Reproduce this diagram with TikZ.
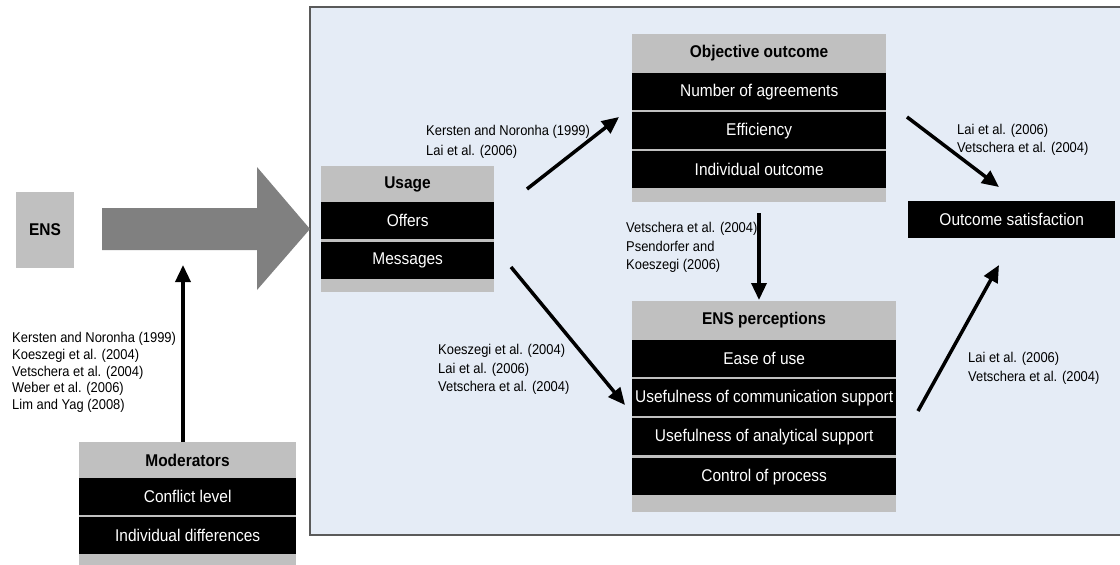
\documentclass[tikz,border=0pt]{standalone}
\usepackage{fontspec}
\setmainfont{Liberation Sans}[FakeStretch=0.91]
\usetikzlibrary{arrows.meta}
\definecolor{panelfill}{HTML}{E5ECF6}
\definecolor{headgray}{HTML}{C0C0C0}
\definecolor{bigarrow}{HTML}{808080}
\definecolor{panelline}{HTML}{5A5A5A}
\begin{document}
\begin{tikzpicture}[x=1pt,y=-1pt,
  groupbox/.style={fill=headgray, draw=none, inner sep=0pt, anchor=north west},
  rowbox/.style={fill=black, text=white, draw=none, inner sep=0pt, anchor=north west,
    minimum height=37pt, font=\fontsize{17}{20}\selectfont},
  headtext/.style={font=\bfseries\fontsize{17}{20}\selectfont, inner sep=0pt},
  cite/.style={anchor=west, align=left, inner sep=0pt, font=\fontsize{14.2}{18.5}\selectfont},
  link/.style={line width=3.5pt, -{Triangle[length=17pt,width=15pt]}},
]
\useasboundingbox (0,0) rectangle (1120,565);

% framed panel on the right
\fill[panelfill] (310,7) rectangle (1126,535);
\draw[panelline, line width=1.5pt] (1126,7) -- (310,7) -- (310,535) -- (1126,535);

% ENS box and the broad arrow
\node[groupbox, minimum width=58pt, minimum height=76pt] (ens) at (16,192) {};
\node[headtext] (ens-t) at (45,230) {ENS};
\fill[bigarrow] (102,208) -- (257,208) -- (257,167) -- (310,229) -- (257,290)
  -- (257,250) -- (102,250) -- cycle;

% Usage
\node[groupbox, minimum width=173pt, minimum height=126pt] (usage) at (321,166) {};
\node[headtext] (usage-h) at (407.5,184) {Usage};
\node[rowbox, minimum width=173pt] (usage-1) at (321,202) {Offers};
\node[rowbox, minimum width=173pt] (usage-2) at (321,242) {Messages};

% Objective outcome
\node[groupbox, minimum width=254pt, minimum height=168pt] (obj) at (632,34) {};
\node[headtext] (obj-h) at (759,53.5) {Objective outcome};
\node[rowbox, minimum width=254pt] (obj-1) at (632,73) {Number of agreements};
\node[rowbox, minimum width=254pt] (obj-2) at (632,112) {Efficiency};
\node[rowbox, minimum width=254pt] (obj-3) at (632,151) {Individual outcome};

% ENS perceptions
\node[groupbox, minimum width=264pt, minimum height=211pt] (perc) at (632,301) {};
\node[headtext] (perc-h) at (764,320.5) {ENS perceptions};
\node[rowbox, minimum width=264pt] (perc-1) at (632,340) {Ease of use};
\node[rowbox, minimum width=264pt] (perc-2) at (632,379) {Usefulness of communication support};
\node[rowbox, minimum width=264pt] (perc-3) at (632,418) {Usefulness of analytical support};
\node[rowbox, minimum width=264pt] (perc-4) at (632,458) {Control of process};

% Outcome satisfaction
\node[rowbox, minimum width=207pt] (sat) at (908,201) {Outcome satisfaction};

% Moderators
\node[groupbox, minimum width=217pt, minimum height=126pt] (mod) at (79,442) {};
\node[headtext] (mod-h) at (187.5,460) {Moderators};
\node[rowbox, minimum width=217pt] (mod-1) at (79,478) {Conflict level};
\node[rowbox, minimum width=217pt] (mod-2) at (79,517) {Individual differences};

% arrow end points
\coordinate (m-a) at (183,442);   \coordinate (m-b) at (183,265);
\coordinate (uo-a) at (527,189);  \coordinate (uo-b) at (619,117);
\coordinate (up-a) at (511,267);  \coordinate (up-b) at (625,405);
\coordinate (op-a) at (759,213);  \coordinate (op-b) at (759,300);
\coordinate (os-a) at (907,117);  \coordinate (os-b) at (999,187);
\coordinate (ps-a) at (918,411);  \coordinate (ps-b) at (999,265);

\draw[link] (m-a) -- (m-b);
\draw[link] (uo-a) -- (uo-b);
\draw[link] (up-a) -- (up-b);
\draw[link] (op-a) -- (op-b);
\draw[link] (os-a) -- (os-b);
\draw[link] (ps-a) -- (ps-b);

% citations
\node[cite, font=\fontsize{14.2}{16.8}\selectfont] (c-mod) at (12,372.5)
  {Kersten and Noronha (1999)\\Koeszegi et al. (2004)\\Vetschera et al. (2004)\\Weber et al. (2006)\\Lim and Yag (2008)};
\node[cite, font=\fontsize{14.2}{20}\selectfont] (c-uo) at (426,142)
  {Kersten and Noronha (1999)\\Lai et al. (2006)};
\node[cite] (c-up) at (438,369.5)
  {Koeszegi et al. (2004)\\Lai et al. (2006)\\Vetschera et al. (2004)};
\node[cite] (c-op) at (626,247.5)
  {Vetschera et al. (2004)\\Psendorfer and\\Koeszegi (2006)};
\node[cite, font=\fontsize{14.2}{18}\selectfont] (c-os) at (957,140)
  {Lai et al. (2006)\\Vetschera et al. (2004)};
\node[cite] (c-ps) at (968,368.5)
  {Lai et al. (2006)\\Vetschera et al. (2004)};
\end{tikzpicture}
\end{document}
